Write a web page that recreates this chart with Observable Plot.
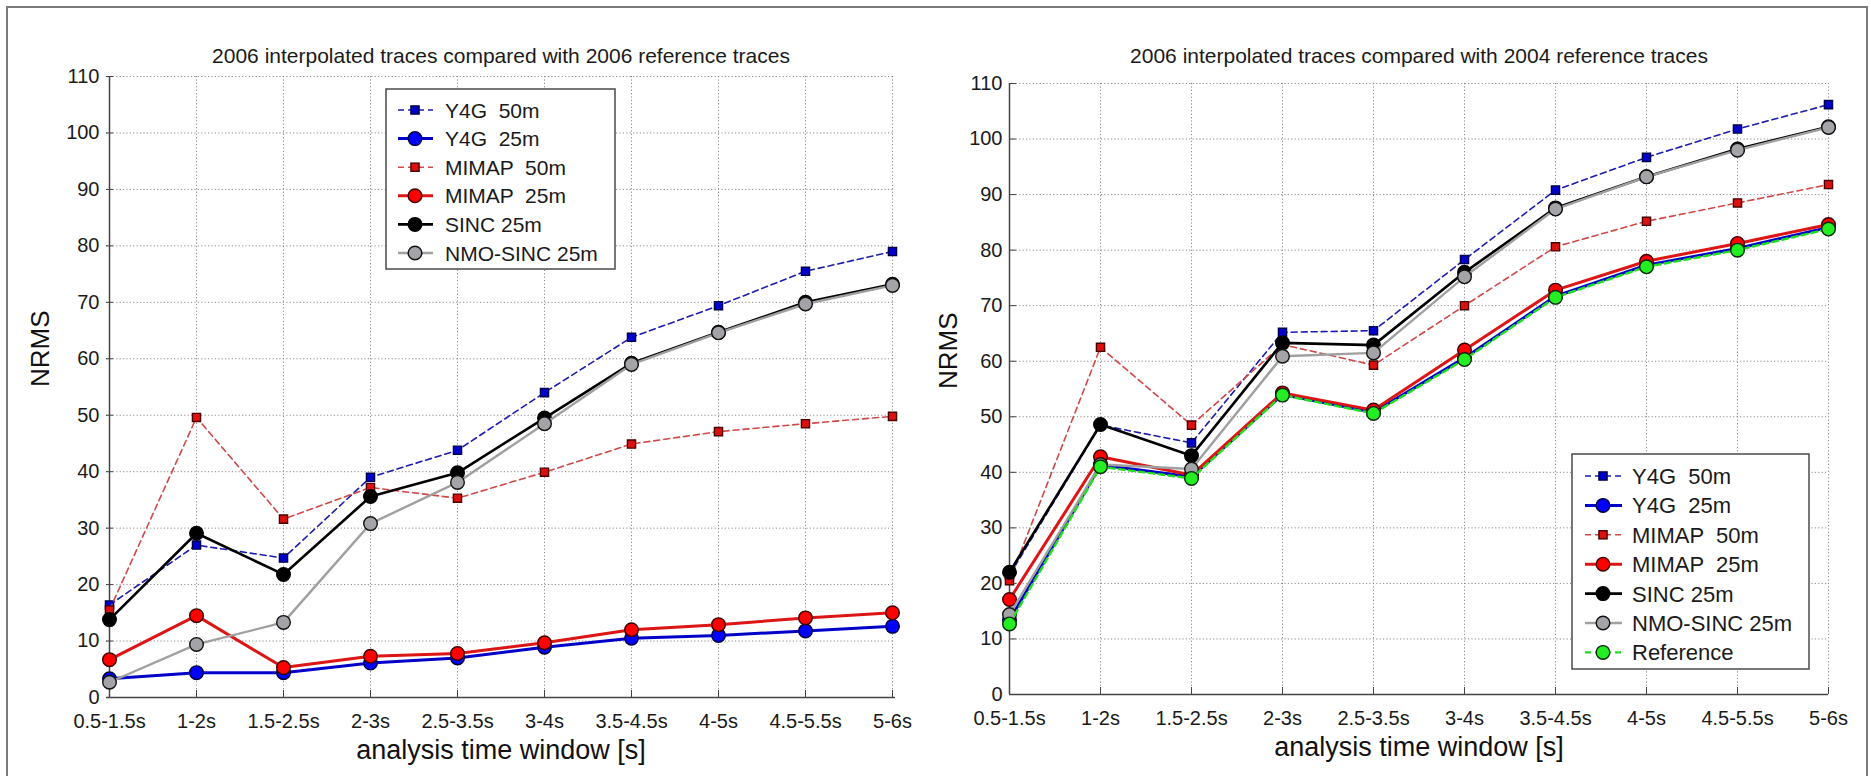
<!DOCTYPE html>
<html><head><meta charset="utf-8">
<script src="https://cdn.jsdelivr.net/npm/d3@7"></script>
<script src="https://cdn.jsdelivr.net/npm/@observablehq/plot@0.6"></script>
<style>
body{margin:0;background:#fff;}
#fig{position:relative;width:1871px;height:776px;overflow:hidden;background:#fff;font-family:"Liberation Sans",Arial,Helvetica,sans-serif;}
.panel{position:absolute;top:0;}
.border{position:absolute;left:6px;top:6px;width:1862px;height:790px;border:2px solid #7a7a7a;box-sizing:border-box;}
.legend{position:absolute;left:0;top:0;}
</style></head><body><div id="fig"><div class="border"></div></div>
<script>
// ---------- data ----------
const windows = ["0.5-1.5s","1-2s","1.5-2.5s","2-3s","2.5-3.5s","3-4s","3.5-4.5s","4-5s","4.5-5.5s","5-6s"];
const yTicks = [0,10,20,30,40,50,60,70,80,90,100,110];
const seriesNames = ["Y4G  50m","Y4G  25m","MIMAP  50m","MIMAP  25m","SINC 25m","NMO-SINC 25m","Reference"];

// left panel: 2006 interpolated vs 2006 reference
const leftY4G50   = [16.4, 27.0, 24.7, 39.0, 43.8, 54.0, 63.8, 69.4, 75.5, 79.0];
const leftY4G25   = [3.3, 4.4, 4.4, 6.1, 7.0, 8.9, 10.5, 11.0, 11.8, 12.6];
const leftMIMAP50 = [15.5, 49.6, 31.6, 37.2, 35.3, 39.9, 44.9, 47.1, 48.5, 49.8];
const leftMIMAP25 = [6.7, 14.5, 5.3, 7.3, 7.8, 9.7, 12.0, 12.9, 14.1, 15.0];
const leftSINC25  = [13.8, 29.1, 21.8, 35.6, 39.8, 49.5, 59.2, 64.7, 70.0, 73.2];
const leftNMO25   = [2.7, 9.4, 13.3, 30.8, 38.1, 48.5, 59.0, 64.6, 69.7, 73.0];

// right panel: 2006 interpolated vs 2004 reference
const rightY4G50   = [21.5, 48.5, 45.3, 65.2, 65.5, 78.3, 90.8, 96.7, 101.8, 106.2];
const rightY4G25   = [13.4, 41.3, 39.2, 54.0, 50.8, 60.6, 71.7, 77.3, 80.3, 84.1];
const rightMIMAP50 = [20.5, 62.5, 48.5, 63.0, 59.3, 70.0, 80.6, 85.2, 88.5, 91.8];
const rightMIMAP25 = [17.1, 42.8, 39.5, 54.3, 51.2, 62.0, 72.8, 78.0, 81.2, 84.6];
const rightSINC25  = [22.0, 48.6, 43.0, 63.3, 62.9, 76.0, 87.6, 93.2, 98.2, 102.2];
const rightNMO25   = [14.4, 41.4, 40.6, 60.9, 61.5, 75.2, 87.4, 93.2, 98.0, 102.1];
const rightRef     = [12.7, 41.0, 38.9, 53.9, 50.6, 60.3, 71.5, 77.0, 80.0, 83.8];

// ---------- styles ----------
const styles = {
  "Y4G  50m":     {line:"#1c1cb0", width:1.6, dash:"6,4", symbol:"square", fill:"#0000cc", edge:"#00004a", r:4.6},
  "Y4G  25m":     {line:"#0000c8", width:3,   dash:null,  symbol:"circle", fill:"#0000ff", edge:"#00003a", r:6.8},
  "MIMAP  50m":   {line:"#d04848", width:1.6, dash:"6,4", symbol:"square", fill:"#dd1010", edge:"#4a0000", r:4.6},
  "MIMAP  25m":   {line:"#dd1515", width:3,   dash:null,  symbol:"circle", fill:"#ff0000", edge:"#3a0000", r:6.8},
  "SINC 25m":     {line:"#000000", width:2.6, dash:null,  symbol:"circle", fill:"#000000", edge:"#000000", r:6.8},
  "NMO-SINC 25m": {line:"#a0a0a0", width:2.4, dash:null,  symbol:"circle", fill:"#a4a4a8", edge:"#111111", r:6.8},
  "Reference":    {line:"#22dd22", width:2.4, dash:"6,4", symbol:"circle", fill:"#22ee22", edge:"#0a2a0a", r:6.8}
};
const font = '"Liberation Sans",Arial,Helvetica,sans-serif';

function rowsOf(vals){ return vals.map((v,i)=>({w:windows[i], v})); }

function panel({title, series, left, width, mL, mR, mT, mB, ylabDx}) {
  const innerW = width - mL - mR, innerH = 776 - mT - mB;
  const marks = [
    Plot.gridX(windows, {stroke:"#808080", strokeOpacity:0.9, strokeDasharray:"1.2,2.2"}),
    Plot.gridY(yTicks, {stroke:"#808080", strokeOpacity:0.9, strokeDasharray:"1.2,2.2"}),
    Plot.ruleY([0], {stroke:"#444", strokeWidth:1.5}),
    Plot.ruleX([windows[0]], {stroke:"#444", strokeWidth:1.5}),
    Plot.ruleY(yTicks, {stroke:"#444", insetRight: innerW - 7}),
    Plot.ruleX(windows, {stroke:"#444", insetTop: innerH - 7}),
    Plot.axisY(yTicks, {tickSize:0, tickPadding:7, fontSize:20, fill:"#1a1a1a", label:null}),
    Plot.axisX(windows, {tickSize:0, tickPadding:16, fontSize:20, fill:"#1a1a1a", label:null}),
    Plot.text([title], {frameAnchor:"top", lineAnchor:"middle", dy: 56 - mT, fontSize:21, fill:"#1a1a1a"}),
    Plot.text(["NRMS"], {frameAnchor:"left", lineAnchor:"middle", rotate:-90, dx: ylabDx, fontSize:26, fill:"#111"}),
    Plot.text(["analysis time window [s]"], {frameAnchor:"bottom", lineAnchor:"middle", dy: 53, fontSize:27, fill:"#111"})
  ];
  for (const [name, vals] of series) {
    const st = styles[name];
    const rows = rowsOf(vals);
    marks.push(Plot.line(rows, {x:"w", y:"v", stroke:st.line, strokeWidth:st.width, strokeDasharray: st.dash || undefined}));
    marks.push(Plot.dot(rows, {x:"w", y:"v", symbol:st.symbol, r:st.r, fill:st.fill, stroke:st.edge, strokeWidth:1.4}));
  }
  const chart = Plot.plot({
    width, height:776, marginLeft:mL, marginRight:mR, marginTop:mT, marginBottom:mB,
    style:{fontFamily:font, background:"transparent", overflow:"visible"},
    x:{type:"point", domain:windows, padding:0},
    y:{domain:[0,110]},
    marks
  });
  chart.classList.add("panel");
  chart.style.left = left + "px";
  document.getElementById("fig").appendChild(chart);
}

panel({title:"2006 interpolated traces compared with 2006 reference traces",
  series:[["Y4G  50m",leftY4G50],["Y4G  25m",leftY4G25],["MIMAP  50m",leftMIMAP50],["MIMAP  25m",leftMIMAP25],["SINC 25m",leftSINC25],["NMO-SINC 25m",leftNMO25]],
  left:0, width:935, mL:106, mR:40, mT:76, mB:79, ylabDx:-66});
panel({title:"2006 interpolated traces compared with 2004 reference traces",
  series:[["Y4G  50m",rightY4G50],["Y4G  25m",rightY4G25],["MIMAP  50m",rightMIMAP50],["MIMAP  25m",rightMIMAP25],["SINC 25m",rightSINC25],["NMO-SINC 25m",rightNMO25],["Reference",rightRef]],
  left:935, width:936, mL:74, mR:43, mT:83, mB:82, ylabDx:-61});

// ---------- legends ----------
const svg = d3.select("#fig").append("svg").attr("class","legend").attr("width",1871).attr("height",776);
function legend({x, y, w, h, row0, rowH, sym, l0, l1, tx, fs, names}) {
  const g = svg.append("g");
  g.append("rect").attr("x",x).attr("y",y).attr("width",w).attr("height",h).attr("fill","#fff").attr("stroke","#555").attr("stroke-width",1.6);
  names.forEach((n,i)=>{
    const st = styles[n], cy = row0 + i*rowH;
    g.append("line").attr("x1",l0).attr("x2",l1).attr("y1",cy).attr("y2",cy).attr("stroke",st.line).attr("stroke-width",st.width).attr("stroke-dasharray",st.dash ? "6,4" : null);
    if (st.symbol === "square") {
      const s = st.r*Math.sqrt(Math.PI);
      g.append("rect").attr("x",sym-s/2).attr("y",cy-s/2).attr("width",s).attr("height",s).attr("fill",st.fill).attr("stroke",st.edge).attr("stroke-width",1.4);
    } else {
      g.append("circle").attr("cx",sym).attr("cy",cy).attr("r",st.r).attr("fill",st.fill).attr("stroke",st.edge).attr("stroke-width",1.4);
    }
    g.append("text").attr("x",tx).attr("y",cy).attr("dy","0.36em").attr("font-size",fs).attr("font-family",font).attr("fill","#1a1a1a").style("white-space","pre").text(n);
  });
}
legend({x:386, y:89, w:229, h:180, row0:110, rowH:28.6, sym:415, l0:398, l1:433, tx:445, fs:21, names:seriesNames.slice(0,6)});
legend({x:1572, y:454, w:237, h:215, row0:476, rowH:29.4, sym:1603, l0:1585, l1:1622, tx:1632, fs:22, names:seriesNames});
</script></body></html>
